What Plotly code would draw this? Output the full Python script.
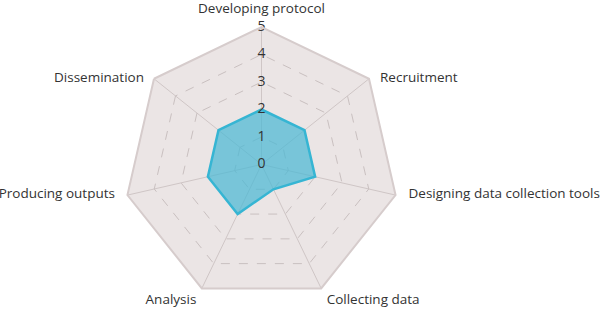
import plotly.graph_objects as go

categories = ["Developing protocol", "Recruitment", "Designing data collection tools",
              "Collecting data", "Analysis", "Producing outputs", "Dissemination"]
values = [2, 2, 2, 1, 2, 2, 2]
tick_values = [0, 1, 2, 3, 4, 5]
tick_labels = ["0", "1", "2", "3", "4", "5"]

# label placement styles (per category)
label_pos = ["top center", "middle right", "middle right", "bottom right",
             "bottom left", "middle left", "middle left"]
label_gap = [11, 11, 13, 5.5, 5.5, 12.5, 10]

FONT = "Open Sans"
fig = go.Figure()
fig.add_trace(go.Scatterpolar(
    r=values + values[:1],
    theta=categories + categories[:1],
    mode="lines",
    fill="toself",
    fillcolor="rgba(75,185,212,0.72)",
    line=dict(color="#36b5d3", width=2.5),
    hoverinfo="skip",
))
# radial tick labels centred on the vertical axis
fig.add_trace(go.Scatterpolar(
    r=[max(v, 1e-3) for v in tick_values],
    theta=[categories[0]] * len(tick_values),
    mode="text",
    text=tick_labels,
    textfont=dict(family=FONT, size=14, color="#333333"),
    hoverinfo="skip",
    cliponaxis=False,
))
# category labels at the outer vertices
rmax = tick_values[-1]
fig.add_trace(go.Scatterpolar(
    r=[rmax] * len(categories),
    theta=categories,
    mode="markers+text",
    text=categories,
    textposition=label_pos,
    marker=dict(size=[(g - 1) * 1.6 for g in label_gap], opacity=0),
    textfont=dict(family=FONT, size=13.5, color="#333333"),
    hoverinfo="skip",
    cliponaxis=False,
))

cx, cy, rad = 261.5, 164.5, 137.5
W, H = 600, 309
fig.update_layout(
    width=W, height=H,
    margin=dict(l=0, r=0, t=0, b=0),
    paper_bgcolor="white",
    showlegend=False,
    font=dict(family=FONT, size=13.5, color="#333333"),
    polar=dict(
        domain=dict(x=[(cx - rad) / W, (cx + rad) / W],
                    y=[1 - (cy + rad) / H, 1 - (cy - rad) / H]),
        gridshape="linear",
        bgcolor="#ebe5e5",
        radialaxis=dict(range=[0, rmax], tickvals=tick_values, showticklabels=False,
                        ticks="", showline=False, angle=90,
                        gridcolor="#c9c0c0", griddash="dash", gridwidth=1),
        angularaxis=dict(rotation=90, direction="clockwise", ticks="",
                         showticklabels=False,
                         showline=True, linecolor="#d6cccc", linewidth=2,
                         gridcolor="#cfc6c6", gridwidth=1),
    ),
)
fig.write_html("out.html")
